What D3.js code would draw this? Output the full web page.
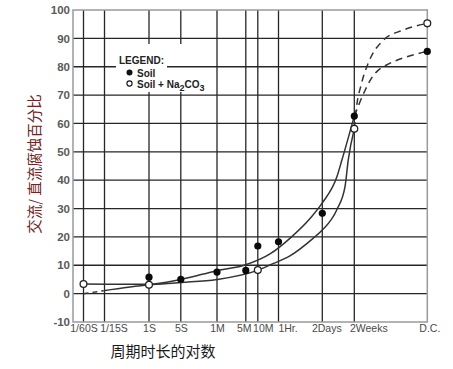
<!DOCTYPE html>
<html>
<head>
<meta charset="utf-8">
<script src="https://cdn.jsdelivr.net/npm/d3@7/dist/d3.min.js"></script>
<style>
  html, body { margin: 0; padding: 0; background: #fff; }
  svg { display: block; }
</style>
</head>
<body>
<svg id="chart" width="453" height="369"></svg>
<script>
// ---------- data ----------
const xLabels = ["1/60S", "1/15S", "1S", "5S", "1M", "5M", "10M", "1Hr.", "2Days", "2Weeks", "D.C."];
const yTicks = [-10, 0, 10, 20, 30, 40, 50, 60, 70, 80, 90, 100];

// measured points (x = position on the time axis in tick units, y = %)
const soilX = [2, 3, 4, 5, 6, 7, 8, 9, 10];
const soilY = [5.8, 5.0, 7.6, 8.2, 16.8, 18.3, 28.3, 62.6, 85.4];
const naX = [0, 2, 6, 9, 10];
const naY = [3.4, 3.1, 8.3, 58.1, 95.3];

// fitted curves
const upperFitX = [0, 2, 3, 4, 4.97, 6.59, 7.26, 7.72, 8, 8.45, 8.61, 9];
const upperFitY = [3.4, 3.3, 5.0, 8.1, 10.1, 14.0, 19.5, 26.5, 32.0, 41.0, 47.0, 62.6];
const lowerStartX = [0, 0.95];
const lowerStartY = [0.0, 1.0];
const lowerFitX = [0.95, 2, 3, 4, 5.91, 6.59, 7.26, 7.79, 8, 8.45, 8.71, 8.81, 9];
const lowerFitY = [1.0, 3.1, 3.9, 5.0, 8.1, 10.1, 13.3, 19.5, 22.4, 29.5, 37.7, 47.1, 58.1];
const naDashX = [9, 9.02, 9.10, 9.19, 9.40, 9.67, 10];
const naDashY = [58.1, 63.6, 74.2, 81.2, 89.4, 92.9, 95.3];
const soilDashX = [9, 9.15, 9.22, 9.33, 9.44, 9.72, 10];
const soilDashY = [62.6, 71.8, 75.3, 78.8, 80.6, 83.5, 85.4];

const legendItems = ["Soil", "Soil + Na2CO3"];
const xTitle = "周期时长的对数";
const yTitle = "交流/ 直流腐蚀百分比";

// ---------- layout ----------
const svg = d3.select("#chart");
const pL = 73, pR = 427.3, pT = 10, pB = 322;
// hand-drawn, non-uniform time axis: piecewise linear scale over tick units
const tickPx = [83.5, 104.5, 149, 180.8, 217, 245.8, 257.8, 278.5, 322.3, 354.3, pR];
const x = d3.scaleLinear().domain(d3.range(xLabels.length)).range(tickPx);
const y = d3.scaleLinear().domain([-10, 100]).range([pB, pT]);

const gridColor = "#262626";
const frameColor = "#9a9a9a";

// horizontal gridlines
svg.append("g").selectAll("line")
  .data(yTicks.filter(v => v > -10 && v < 100))
  .join("line")
  .attr("x1", pL).attr("x2", pR)
  .attr("y1", d => y(d)).attr("y2", d => y(d))
  .attr("stroke", gridColor).attr("stroke-width", 1.3);

// vertical gridlines
svg.append("g").selectAll("line")
  .data(d3.range(xLabels.length - 1))
  .join("line")
  .attr("x1", d => x(d)).attr("x2", d => x(d))
  .attr("y1", pT).attr("y2", pB)
  .attr("stroke", gridColor).attr("stroke-width", 1.3);

// frame
svg.append("rect")
  .attr("x", pL).attr("y", pT)
  .attr("width", pR - pL).attr("height", pB - pT)
  .attr("fill", "none").attr("stroke", frameColor).attr("stroke-width", 1.5);

// y axis labels
const yAxis = svg.append("g")
  .attr("transform", `translate(${pL},0)`)
  .call(d3.axisLeft(y).tickValues(yTicks).tickFormat(d => String(d)).tickSize(0).tickPadding(3));
yAxis.select(".domain").remove();
yAxis.selectAll("text")
  .attr("font-family", "Liberation Sans, Arial, sans-serif")
  .attr("font-size", 11.5).attr("font-weight", "bold").attr("fill", "#5a5a5a");

// x axis labels
const xDx = {"1/15S": 9, "5M": -2, "10M": 5, "1Hr.": 9, "2Days": 4, "2Weeks": 14, "D.C.": 2};
const xAxis = svg.append("g")
  .attr("transform", `translate(0,${pB})`)
  .call(d3.axisBottom(x).tickValues(d3.range(xLabels.length))
    .tickFormat(i => xLabels[i]).tickSize(0).tickPadding(3));
xAxis.select(".domain").remove();
xAxis.selectAll("text")
  .attr("font-family", "Liberation Sans, Arial, sans-serif")
  .attr("font-size", 10.5).attr("fill", "#4a4a4a")
  .attr("dx", i => xDx[xLabels[i]] || 0);

// legend box (white, covers gridlines)
const lg = svg.append("g");
lg.append("rect").attr("x", 113).attr("y", 44).attr("width", 99).attr("height", 48).attr("fill", "#fff");
lg.append("line").attr("x1", 113).attr("x2", 212).attr("y1", y(80)).attr("y2", y(80))
  .attr("stroke", gridColor).attr("stroke-width", 1.3);
lg.append("rect").attr("x", 116).attr("y", 52).attr("width", 51).attr("height", 17).attr("fill", "#fff");
lg.append("text").attr("x", 119).attr("y", 63.5)
  .attr("font-family", "Liberation Sans, Arial, sans-serif").attr("font-size", 10)
  .attr("font-weight", "bold").attr("fill", "#222").text("LEGEND:");
lg.append("circle").attr("cx", 129.5).attr("cy", 72.5).attr("r", 3).attr("fill", "#111");
lg.append("circle").attr("cx", 129.5).attr("cy", 83.5).attr("r", 2.6)
  .attr("fill", "#fff").attr("stroke", "#111").attr("stroke-width", 1.1);
lg.append("text").attr("x", 137).attr("y", 76.5)
  .attr("font-family", "Liberation Sans, Arial, sans-serif").attr("font-size", 10)
  .attr("font-weight", "bold").attr("fill", "#222").text(legendItems[0]);
const t2 = lg.append("text").attr("x", 137).attr("y", 87.5)
  .attr("font-family", "Liberation Sans, Arial, sans-serif").attr("font-size", 10)
  .attr("font-weight", "bold").attr("fill", "#222");
t2.append("tspan").text("Soil + Na");
t2.append("tspan").attr("dy", 3).attr("font-size", 9).text("2");
t2.append("tspan").attr("dy", -3).text("CO");
t2.append("tspan").attr("dy", 3).attr("font-size", 9).text("3");

// curves
const line = d3.line().x(d => x(d[0])).y(d => y(d[1])).curve(d3.curveMonotoneX);
const curves = [
  {xs: upperFitX, ys: upperFitY, dash: null},
  {xs: lowerStartX, ys: lowerStartY, dash: "5,4"},
  {xs: lowerFitX, ys: lowerFitY, dash: null},
  {xs: naDashX, ys: naDashY, dash: "7,5"},
  {xs: soilDashX, ys: soilDashY, dash: "7,5"}
];
svg.append("g").selectAll("path")
  .data(curves)
  .join("path")
  .attr("d", c => line(d3.zip(c.xs, c.ys)))
  .attr("fill", "none").attr("stroke", "#333").attr("stroke-width", 1.5)
  .attr("stroke-dasharray", c => c.dash);

// points
svg.append("g").selectAll("circle")
  .data(d3.zip(soilX, soilY))
  .join("circle")
  .attr("cx", d => x(d[0])).attr("cy", d => y(d[1])).attr("r", 3.6)
  .attr("fill", "#0a0a0a");
svg.append("g").selectAll("circle")
  .data(d3.zip(naX, naY))
  .join("circle")
  .attr("cx", d => x(d[0])).attr("cy", d => y(d[1])).attr("r", 3.4)
  .attr("fill", "#fff").attr("stroke", "#222").attr("stroke-width", 1.3);

// axis titles
svg.append("text")
  .attr("x", 163).attr("y", 357)
  .attr("text-anchor", "middle")
  .attr("font-family", "Noto Sans CJK SC, sans-serif").attr("font-size", 15)
  .attr("fill", "#1a1a1a").text(xTitle);
svg.append("text")
  .attr("transform", "translate(40,164) rotate(-90)")
  .attr("text-anchor", "middle")
  .attr("font-family", "Noto Sans CJK SC, sans-serif").attr("font-size", 14.5)
  .attr("fill", "#6a2626").text(yTitle);
</script>
</body>
</html>
